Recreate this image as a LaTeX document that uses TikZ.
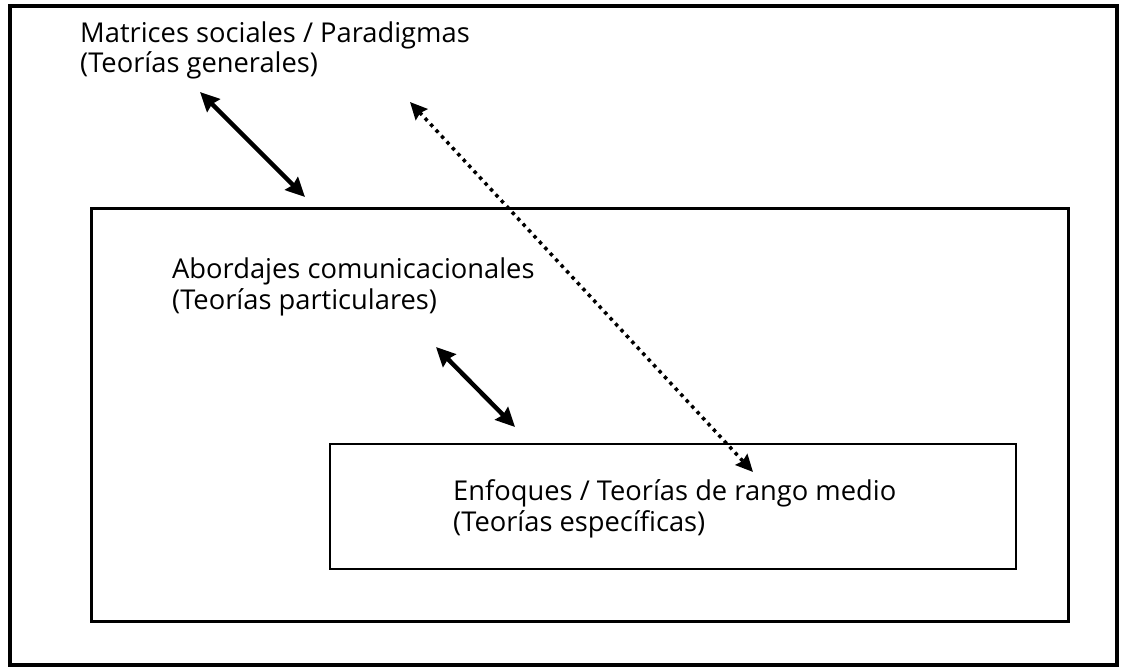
\documentclass[tikz,border=0pt]{standalone}
\usepackage{fontspec}
\setmainfont{Open Sans}
\usetikzlibrary{arrows.meta}
\begin{document}
\begin{tikzpicture}[x=1pt,y=-1pt,
  frame/.style={draw, inner sep=0pt, line width=#1},
  label/.style={anchor=base west, inner sep=0pt, align=left,
    font=\fontsize{27.3pt}{30.5pt}\selectfont},
  solidarrow/.style={line width=4.5pt, {Stealth[inset=2pt,length=19pt,width=18pt]}-{Stealth[inset=2pt,length=19pt,width=18pt]}},
  dotarrow/.style={line width=3.5pt, dash pattern=on 3.5pt off 4.5pt, {Stealth[inset=2pt,length=17pt,width=16pt]}-{Stealth[inset=2pt,length=17pt,width=16pt]}}
]
\useasboundingbox (0,0) rectangle (1123,668);
\node[frame=4pt, minimum width=1107pt, minimum height=659pt] (outer) at (563.5,335.5) {};
\node[frame=3pt, minimum width=977pt, minimum height=412pt] (middle) at (579.5,415) {};
\node[frame=2.5pt, minimum width=686pt, minimum height=125pt] (inner) at (673,506.5) {};
\node[label] (general) at (80,73) {Matrices sociales / Paradigmas\\(Teorías generales)};
\node[label] (particular) at (172,309) {Abordajes comunicacionales\\(Teorías particulares)};
\node[label] (specific) at (453,531) {Enfoques / Teorías de rango medio\\(Teorías específicas)};
\coordinate (a1s) at (200,92);
\coordinate (a1e) at (305,197);
\coordinate (a2s) at (410,102);
\coordinate (a2e) at (753,472);
\coordinate (a3s) at (436,347);
\coordinate (a3e) at (515,427);
\draw[solidarrow] (a1s) -- (a1e);
\draw[dotarrow] (a2s) -- (a2e);
\draw[solidarrow] (a3s) -- (a3e);
\end{tikzpicture}
\end{document}
